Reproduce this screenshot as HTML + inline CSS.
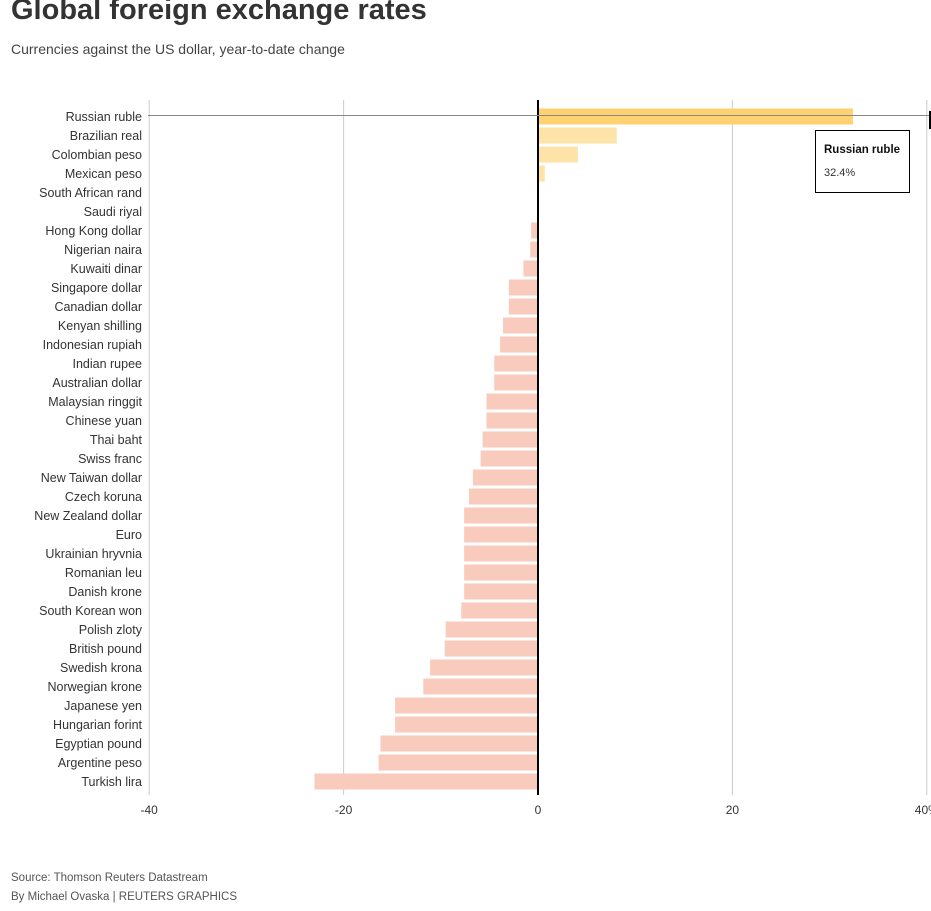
<!DOCTYPE html>
<html><head><meta charset="utf-8"><style>
body{margin:0;width:931px;height:911px;background:#fff;font-family:"Liberation Sans",sans-serif;overflow:hidden;position:relative}
h1{position:absolute;left:11px;top:-6px;margin:0;font-size:29px;font-weight:bold;color:#333}
.sub{position:absolute;left:11px;top:41px;font-size:14px;color:#444}
.foot{position:absolute;left:11px;font-size:11.5px;color:#555}
</style></head><body>
<h1>Global foreign exchange rates</h1>
<div class="sub">Currencies against the US dollar, year-to-date change</div>
<svg id="chart" width="931" height="830" style="position:absolute;left:0;top:0"></svg>
<div class="foot" style="top:872px">Source: Thomson Reuters Datastream</div>
<div class="foot" style="top:891px">By Michael Ovaska | REUTERS GRAPHICS</div>
<script>
const categories=["Russian ruble","Brazilian real","Colombian peso","Mexican peso","South African rand","Saudi riyal","Hong Kong dollar","Nigerian naira","Kuwaiti dinar","Singapore dollar","Canadian dollar","Kenyan shilling","Indonesian rupiah","Indian rupee","Australian dollar","Malaysian ringgit","Chinese yuan","Thai baht","Swiss franc","New Taiwan dollar","Czech koruna","New Zealand dollar","Euro","Ukrainian hryvnia","Romanian leu","Danish krone","South Korean won","Polish zloty","British pound","Swedish krona","Norwegian krone","Japanese yen","Hungarian forint","Egyptian pound","Argentine peso","Turkish lira"];
const values=[32.4,8.1,4.1,0.7,0,0,-0.7,-0.8,-1.5,-3.0,-3.0,-3.6,-3.9,-4.5,-4.5,-5.3,-5.3,-5.7,-5.9,-6.7,-7.1,-7.6,-7.6,-7.6,-7.6,-7.6,-7.9,-9.5,-9.6,-11.1,-11.8,-14.7,-14.7,-16.2,-16.4,-23.0];
const ticks=[-40,-20,0,20,40];
const tickLabels=["-40","-20","0","20","40%"];
const NS="http://www.w3.org/2000/svg",svg=document.getElementById('chart');
const x=v=>538+v*9.72, y=i=>116.5+i*19.0;
function mk(t,a,p){const e=document.createElementNS(NS,t);for(const k in a)e.setAttribute(k,a[k]);(p||svg).appendChild(e);return e;}
ticks.forEach((t,i)=>{
 if(t!==0){const g=mk('line',{x1:x(t),x2:x(t),y1:100,y2:795,stroke:'#ccc','stroke-width':1});
 
 }
 const tx=mk('text',{x:x(t),y:814,'text-anchor':'middle','font-size':12,fill:'#333'});tx.textContent=tickLabels[i];
 
 
});
categories.forEach((c,i)=>{
 const v=values[i];
 const col=i===0?'#ffd271':(v>0?'#fde3a7':'#f8cbbd');
 const r=mk('rect',{x:Math.min(x(0),x(v)),y:y(i)-8,width:Math.abs(x(v)-x(0)),height:16,fill:col});
 
 
 const l=mk('text',{x:142,y:y(i)+4.5,'text-anchor':'end','font-size':12.5,fill:'#333'});l.textContent=c;
 
 
});
const z=mk('line',{x1:538,x2:538,y1:100,y2:795,stroke:'#000','stroke-width':2});


const h=mk('line',{x1:148,x2:931,y1:115.5,y2:115.5,stroke:'#888','stroke-width':1});


mk('rect',{x:929,y:111,width:2,height:18,fill:'#000'});
const tip=mk('g',{});


mk('rect',{x:815.5,y:130.5,width:94,height:62,fill:'#fff',stroke:'#000','stroke-width':1},tip);
const t1=mk('text',{x:824,y:153,'font-size':11.5,'font-weight':'bold',fill:'#111'},tip);t1.textContent=categories[0];
const t2=mk('text',{x:824,y:176,'font-size':11,fill:'#333'},tip);t2.textContent=values[0]+'%';
</script>
</body></html>
